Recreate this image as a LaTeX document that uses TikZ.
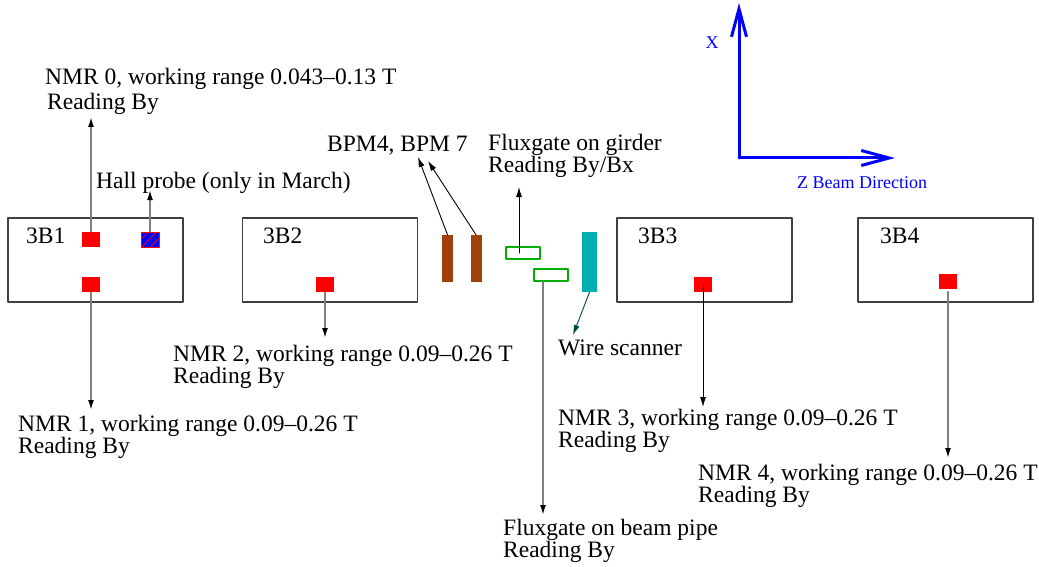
\documentclass[tikz,border=0pt]{standalone}
\usepackage{fontspec}
\setmainfont{Liberation Serif}
\usetikzlibrary{arrows.meta,patterns.meta,calc}
\definecolor{ProbeRed}{HTML}{FF0000}
\definecolor{HallBlue}{HTML}{0000FF}
\definecolor{BpmBrown}{HTML}{A0410D}
\definecolor{WireTeal}{HTML}{00B0B0}
\definecolor{GateGreen}{HTML}{00B000}
\definecolor{AxisBlue}{HTML}{0000FF}

\tikzset{
  magnet/.style={draw=black!75,line width=1.2pt,minimum width=175pt,minimum height=84pt,inner sep=0},
  nmr/.style={fill=ProbeRed,minimum width=18pt,minimum height=15pt,inner sep=0},
  bpm/.style={fill=BpmBrown,minimum width=11pt,minimum height=47pt,inner sep=0},
  gate/.style={draw=GateGreen,line width=2pt,minimum width=34pt,minimum height=12pt,inner sep=0},
  lbl/.style={anchor=base west,inner sep=0,align=left,font=\fontsize{23.5}{22}\selectfont},
  feed/.style={draw=black!50,line width=1.6pt,-{Latex[black,length=10pt,width=6pt]}},
  tag/.style={line width=0.9pt,-{Latex[length=10pt,width=6pt]}},
  axis/.style={AxisBlue,line width=3pt,-{Straight Barb[length=28pt,width=15pt]}},
}

\begin{document}
\begin{tikzpicture}[x=1pt,y=-1pt,line cap=round,line join=round]
  \useasboundingbox (0,0) rectangle (1039,567);

  % dipoles 3B1..3B4
  \node[magnet] (m1) at (95.5,260) {};
  \node[magnet] (m2) at (330,260) {};
  \node[magnet] (m3) at (704.5,260) {};
  \node[magnet] (m4) at (945.5,260) {};
  \node[lbl] at (26,243) {3B1};\node[lbl] at (263,243) {3B2};
  \node[lbl] at (638,243) {3B3};\node[lbl] at (880,243) {3B4};

  % probes
  \node[nmr] (n0) at (91,239.5) {};
  \node[nmr] (n1) at (91,284.5) {};
  \node[nmr] (n2) at (325,284.5) {};
  \node[nmr] (n3) at (703,284.5) {};
  \node[nmr] (n4) at (948,281) {};
  \node[draw=ProbeRed,fill=HallBlue,minimum width=18pt,minimum height=15pt,inner sep=0,
        postaction={pattern={Lines[angle=45,distance=6pt,line width=0.8pt]},pattern color=ProbeRed}] (hp) at (150,239.5) {};

  % beam line instruments
  \node[bpm] (b4) at (447.5,258.5) {};
  \node[bpm] (b7) at (476,258.5) {};
  \node[gate] (gg) at (523,253) {};
  \node[gate] (pg) at (551,274.5) {};
  \node[fill=WireTeal,minimum width=15pt,minimum height=60pt,inner sep=0] (ws) at (589.5,262) {};

  % labels (base = last line)
  \node[lbl] (t0) at (45,110) {NMR 0, working range 0.043--0.13 T\\[3pt]\hspace{2pt}Reading By};
  \node[lbl] (thp) at (96,188) {Hall probe (only in March)};
  \node[lbl] (t1) at (18,453) {NMR 1, working range 0.09--0.26 T\\Reading By};
  \node[lbl] (t2) at (173,383) {NMR 2, working range 0.09--0.26 T\\Reading By};
  \node[lbl] (t3) at (558,447) {NMR 3, working range 0.09--0.26 T\\Reading By};
  \node[lbl] (t4) at (698,502) {NMR 4, working range 0.09--0.26 T\\Reading By};
  \node[lbl] (tb) at (327,152) {BPM4, BPM 7};
  \node[lbl] (tgg) at (488,172) {Fluxgate on girder\\Reading By/Bx};
  \node[lbl] (tpg) at (503,557) {Fluxgate on beam pipe\\Reading By};
  \node[lbl] (tws) at (558,355) {Wire scanner};

  % leader ends
  \coordinate (e0) at (91,117);\coordinate (ehp) at (150,190);
  \coordinate (e1) at (91,410);\coordinate (e2) at (325,338);
  \coordinate (e3) at (703,407);\coordinate (e4) at (948,458);
  \coordinate (eb4) at (418,157);\coordinate (eb7) at (428,161);
  \coordinate (egg) at (519,187);\coordinate (epg) at (543,515);
  \coordinate (ews) at (573,335);

  \draw[feed] (n0.north) -- (e0);
  \draw[feed] (hp.north) -- (ehp);
  \draw[feed] (n1.south) -- (e1);
  \draw[feed] (n2.south) -- (e2);
  \draw[tag] (n3.center) -- (e3);
  \draw[feed] (n4.south) ++(0,3) -- (e4);
  \draw[tag] (b4.north) -- (eb4);
  \draw[tag] (b7.north) -- (eb7);
  \draw[tag] (gg.center -| egg) -- (egg);
  \draw[feed] (pg.south -| epg) -- (epg);
  \draw[tag,draw=WireTeal!40!black] (ws.south) -- (ews);

  % coordinate axes
  \coordinate (org) at (739,158);
  \coordinate (xax) at (739,3);\coordinate (zax) at (895,158);
  \draw[axis] (org) -- (xax);
  \draw[axis] (org) -- (zax);
  \node[text=AxisBlue,font=\fontsize{18}{20}\selectfont,inner sep=0] (xl) at (712,43) {X};
  \node[text=AxisBlue,font=\fontsize{18}{20}\selectfont,inner sep=0,anchor=base west] (zl) at (797,189) {Z Beam Direction};
\end{tikzpicture}
\end{document}
